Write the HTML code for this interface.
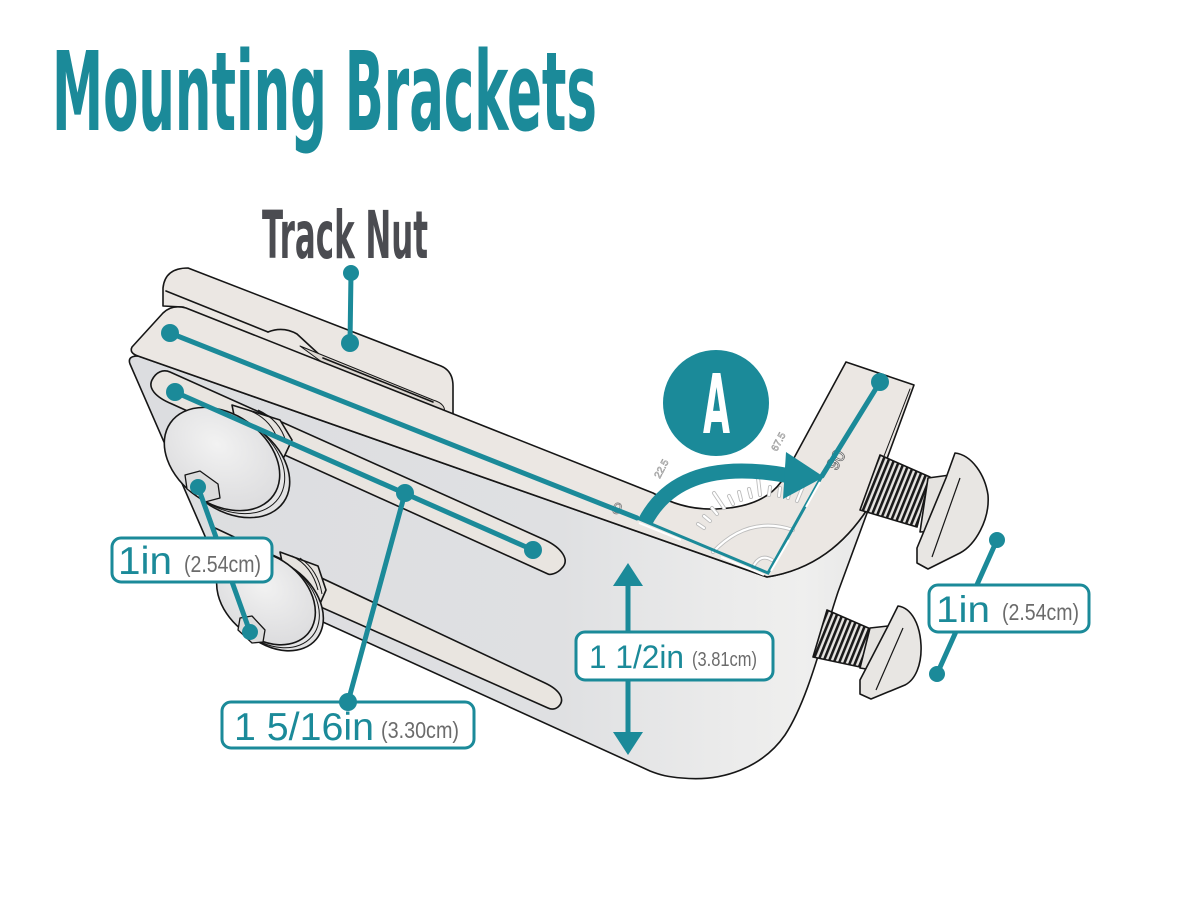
<!DOCTYPE html>
<html><head><meta charset="utf-8"><style>
html,body{margin:0;padding:0;background:#fff;}
svg{display:block;}
</style></head><body>
<svg width="1200" height="900" viewBox="0 0 1200 900" xmlns="http://www.w3.org/2000/svg">
<defs>
<linearGradient id="gf" gradientUnits="userSpaceOnUse" x1="130" y1="0" x2="914" y2="0">
<stop offset="0" stop-color="#dcdde0"/><stop offset="0.55" stop-color="#dfe0e2"/><stop offset="0.76" stop-color="#ebebeb"/><stop offset="0.86" stop-color="#efefee"/><stop offset="1" stop-color="#e2e2e3"/>
</linearGradient>
<radialGradient id="gh" cx="0.4" cy="0.4" r="0.7"><stop offset="0" stop-color="#f2f2f2"/><stop offset="1" stop-color="#dadadc"/></radialGradient>
<pattern id="thr" patternUnits="userSpaceOnUse" width="5" height="10" patternTransform="rotate(22)">
<rect width="5" height="10" fill="#e6e4e1"/><rect width="2.6" height="10" fill="#1a1a1a"/>
</pattern>
</defs>

<!-- Title -->
<text x="52" y="130" font-family="DejaVu Sans, Liberation Sans, sans-serif" font-weight="bold" font-size="110" textLength="545" lengthAdjust="spacingAndGlyphs" fill="#1b8a99">Mounting Brackets</text>
<text x="262" y="258" font-family="DejaVu Sans, Liberation Sans, sans-serif" font-weight="bold" font-size="66" textLength="166" lengthAdjust="spacingAndGlyphs" fill="#4b4c51">Track Nut</text>

<g stroke="#161616" stroke-width="1.6" stroke-linejoin="round" stroke-linecap="round">
<!-- back plate -->
<path d="M163,306 L163,288 Q165,268 188,268 L441,366 Q453,371 453,386 L453,416 L183,307 Z" fill="#ebe7e3"/>
<path d="M166,291 L268,332" fill="none"/>
<path d="M268,332 Q283,326 297,334 L323,358" fill="none"/>
<path d="M300,346 L433,400 Q447,404 444,414 L330,368 Z" fill="#ddd8d2" stroke-width="1"/>
<path d="M323,358 L433,402" fill="none"/>

<!-- front face -->
<path d="M138,356 L767,577 C812,570 845,545 870,505 L838,592 C822,640 808,700 785,735 C762,768 722,782 682,778 C668,777 660,775 650,771 L235,582 Q222,576 218,566 L130,364 Q127,356 138,356 Z" fill="url(#gf)"/>
<!-- top / inner face -->
<path d="M132,347 L163,313 Q172,304 186,308 L653,493 C672,504 692,510 716,509 C745,508 768,500 781,482 L846,362 L914,385 L870,505 C845,545 812,570 767,577 L138,356 Q129,353 132,347 Z" fill="#ebe7e3"/>
<path d="M910,389 L867,500" fill="none" stroke-width="1"/>

<!-- slots -->
<path d="M170,372 L545,540 C562,548 570,560 562,568 C557,574 550,575 548,574 L172,404 C155,397 148,388 152,380 C156,372 163,369 170,372 Z" fill="#e9e5e0"/>
<path d="M215,528 L545,683 C560,690 566,700 558,707 C554,710 550,709 548,708 L215,560 Z" fill="#e9e5e0"/>
</g>

<!-- left bolts -->
<g stroke="#161616" stroke-width="1.6" stroke-linejoin="round">
<path d="M232,405 L280,420 L292,440 L284,457 L240,446 Z" fill="#e6e3df"/>
<path d="M248,410 Q270,418 278,440 M258,410 Q280,420 286,442" fill="none" stroke-width="1"/>
<ellipse cx="232" cy="466" rx="63" ry="45" transform="rotate(35 232 466)" fill="#e2e2e3"/>
<ellipse cx="227" cy="462" rx="63" ry="45" transform="rotate(35 227 462)" fill="#e6e6e7" stroke-width="1"/>
<ellipse cx="222" cy="459" rx="63" ry="45" transform="rotate(35 222 459)" fill="url(#gh)"/>
<path d="M185,475 L200,471 L218,484 L220,498 L205,502 L187,489 Z" fill="#dcdcdc" stroke-width="1.3"/>

<path d="M280,552 L318,566 L326,590 L316,613 L290,600 Z" fill="#e6e3df"/>
<path d="M292,556 Q312,566 318,590 M300,558 Q318,570 322,594" fill="none" stroke-width="1"/>
<ellipse cx="274" cy="604" rx="55" ry="40" transform="rotate(40 274 604)" fill="#e2e2e3"/>
<ellipse cx="270" cy="601" rx="55" ry="40" transform="rotate(40 270 601)" fill="#e6e6e7" stroke-width="1"/>
<ellipse cx="266" cy="598" rx="55" ry="40" transform="rotate(40 266 598)" fill="url(#gh)"/>
<path d="M240,618 L252,616 L265,630 L263,642 L252,643 L238,630 Z" fill="#dcdcdc" stroke-width="1.3"/>
</g>

<!-- right T-bolts -->
<g stroke="#161616" stroke-width="1.6" stroke-linejoin="round">
<path d="M880,455 L930,477 L917,527 L860,510 Z" fill="url(#thr)"/>
<path d="M928,478 L950,475 L948,530 L920,532 Z" fill="#e5e3e0"/>
<path d="M955,453 C972,455 985,475 988,495 C990,520 975,545 960,553 L928,569 L917,563 L917,548 L946,478 Z" fill="#e8e6e3"/>
<path d="M960,478 L932,557" fill="none" stroke-width="1.2"/>

<path d="M827,610 L873,630 L860,667 L813,657 Z" fill="url(#thr)"/>
<path d="M870,628 L888,626 L885,672 L860,668 Z" fill="#e5e3e0"/>
<path d="M898,606 C912,608 920,625 921,645 C922,665 915,680 905,685 L871,699 L860,694 L860,680 L888,626 Z" fill="#e8e6e3"/>
<path d="M903,628 L876,690" fill="none" stroke-width="1.2"/>
</g>

<!-- protractor -->
<g stroke-linecap="round" fill="none">
<g stroke="#bdbdbd" stroke-width="4">
<path d="M704,528 L698,524 M710,521 L704,516 M717,514 L712,508 M724,508 L714,493 M733,504 L729,496 M741,500 L739,492 M751,497 L749,489 M760,495 L758,478 M769,495 L770,487 M779,496 L780,488 M788,498 L790,490 M797,501 L804,484"/>
<path d="M713,552 Q748,515 793,530"/>
<path d="M753,567 Q760,553 772,560"/>
</g>
<g stroke="#ffffff" stroke-width="2.2">
<path d="M704,528 L698,524 M710,521 L704,516 M717,514 L712,508 M724,508 L714,493 M733,504 L729,496 M741,500 L739,492 M751,497 L749,489 M760,495 L758,478 M769,495 L770,487 M779,496 L780,488 M788,498 L790,490 M797,501 L804,484"/>
<path d="M713,552 Q748,515 793,530"/>
<path d="M753,567 Q760,553 772,560"/>
</g>
</g>
<text x="612" y="514" transform="rotate(22 617 510)" font-family="Liberation Sans, sans-serif" font-size="16" fill="#fff" stroke="#7a7a7a" stroke-width="0.8">0</text>
<text x="652" y="474" transform="rotate(-62 660 470)" font-family="Liberation Sans, sans-serif" font-size="10" fill="#fff" stroke="#9a9a9a" stroke-width="0.6">22.5</text>
<text x="769" y="447" transform="rotate(-62 777 443)" font-family="Liberation Sans, sans-serif" font-size="10" fill="#fff" stroke="#9a9a9a" stroke-width="0.6">67.5</text>
<text x="826" y="466" transform="rotate(-60 836 460)" font-family="Liberation Sans, sans-serif" font-size="18" fill="#fff" stroke="#6a6a6a" stroke-width="0.8">90</text>

<!-- teal annotations -->
<g stroke="#1b8a99" fill="none" stroke-linecap="round">
<path d="M637,518 L768,573 L822,476" stroke-width="3"/>
<path d="M351,273 L350,343" stroke-width="5"/>
<path d="M170,333 L637,518" stroke-width="5"/>
<path d="M175,392 L533,550" stroke-width="5"/>
<path d="M405,493 L348,702" stroke-width="5"/>
<path d="M880,382 L822,476" stroke-width="5"/>
<path d="M997,540 L937,674" stroke-width="5"/>
<path d="M198,487 L250,632" stroke-width="5"/>
<path d="M628,578 L628,740" stroke-width="5"/>
<path d="M645,522 Q680,455 790,476" stroke-width="15" stroke-linecap="butt"/>
</g>
<g stroke="#ffffff" stroke-width="2" stroke-linecap="butt">
<path d="M639,523 L681,540 M721,557 L764,575"/>
<path d="M820,482 L806,507 M789,540 L771,571"/>
</g>
<g fill="#1b8a99">
<path d="M786,452 L824,477 L783,499 Z"/>
<path d="M628,563 L613,586 L643,586 Z"/>
<path d="M628,755 L613,732 L643,732 Z"/>
<circle cx="351" cy="273" r="8"/><circle cx="350" cy="343" r="9"/>
<circle cx="170" cy="333" r="9"/>
<circle cx="175" cy="392" r="9"/><circle cx="533" cy="550" r="9"/><circle cx="405" cy="493" r="9"/>
<circle cx="880" cy="382" r="9"/>
<circle cx="997" cy="540" r="8"/><circle cx="937" cy="674" r="8"/>
<circle cx="198" cy="487" r="8"/><circle cx="250" cy="632" r="8"/>
<circle cx="716" cy="403" r="53"/>
</g>
<text x="703" y="433" font-family="DejaVu Sans, Liberation Sans, sans-serif" font-weight="bold" font-size="82" textLength="27" lengthAdjust="spacingAndGlyphs" fill="#fff">A</text>

<!-- label boxes -->
<g fill="#fff" stroke="#1b8a99" stroke-width="3">
<rect x="112" y="538" width="160" height="44" rx="9"/>
<rect x="222" y="702" width="252" height="46" rx="9"/>
<rect x="576" y="632" width="197" height="48" rx="9"/>
<rect x="929" y="585" width="160" height="47" rx="9"/>
</g>
<circle cx="348" cy="702" r="9" fill="#1b8a99"/>

<g font-family="Liberation Sans, Arial, sans-serif">
<text x="118" y="574" font-size="39" textLength="54" lengthAdjust="spacingAndGlyphs" fill="#1b8a99">1in</text>
<text x="184" y="572" font-size="23" textLength="77" lengthAdjust="spacingAndGlyphs" fill="#6b6b6b">(2.54cm)</text>
<text x="234" y="740" font-size="39" textLength="140" lengthAdjust="spacingAndGlyphs" fill="#1b8a99">1 5/16in</text>
<text x="381" y="738" font-size="23" textLength="78" lengthAdjust="spacingAndGlyphs" fill="#6b6b6b">(3.30cm)</text>
<text x="589" y="668" font-size="32" textLength="95" lengthAdjust="spacingAndGlyphs" fill="#1b8a99">1 1/2in</text>
<text x="692" y="666" font-size="20" textLength="65" lengthAdjust="spacingAndGlyphs" fill="#6b6b6b">(3.81cm)</text>
<text x="936" y="622" font-size="37" textLength="54" lengthAdjust="spacingAndGlyphs" fill="#1b8a99">1in</text>
<text x="1002" y="620" font-size="23" textLength="77" lengthAdjust="spacingAndGlyphs" fill="#6b6b6b">(2.54cm)</text>
</g>
</svg>
</body></html>
